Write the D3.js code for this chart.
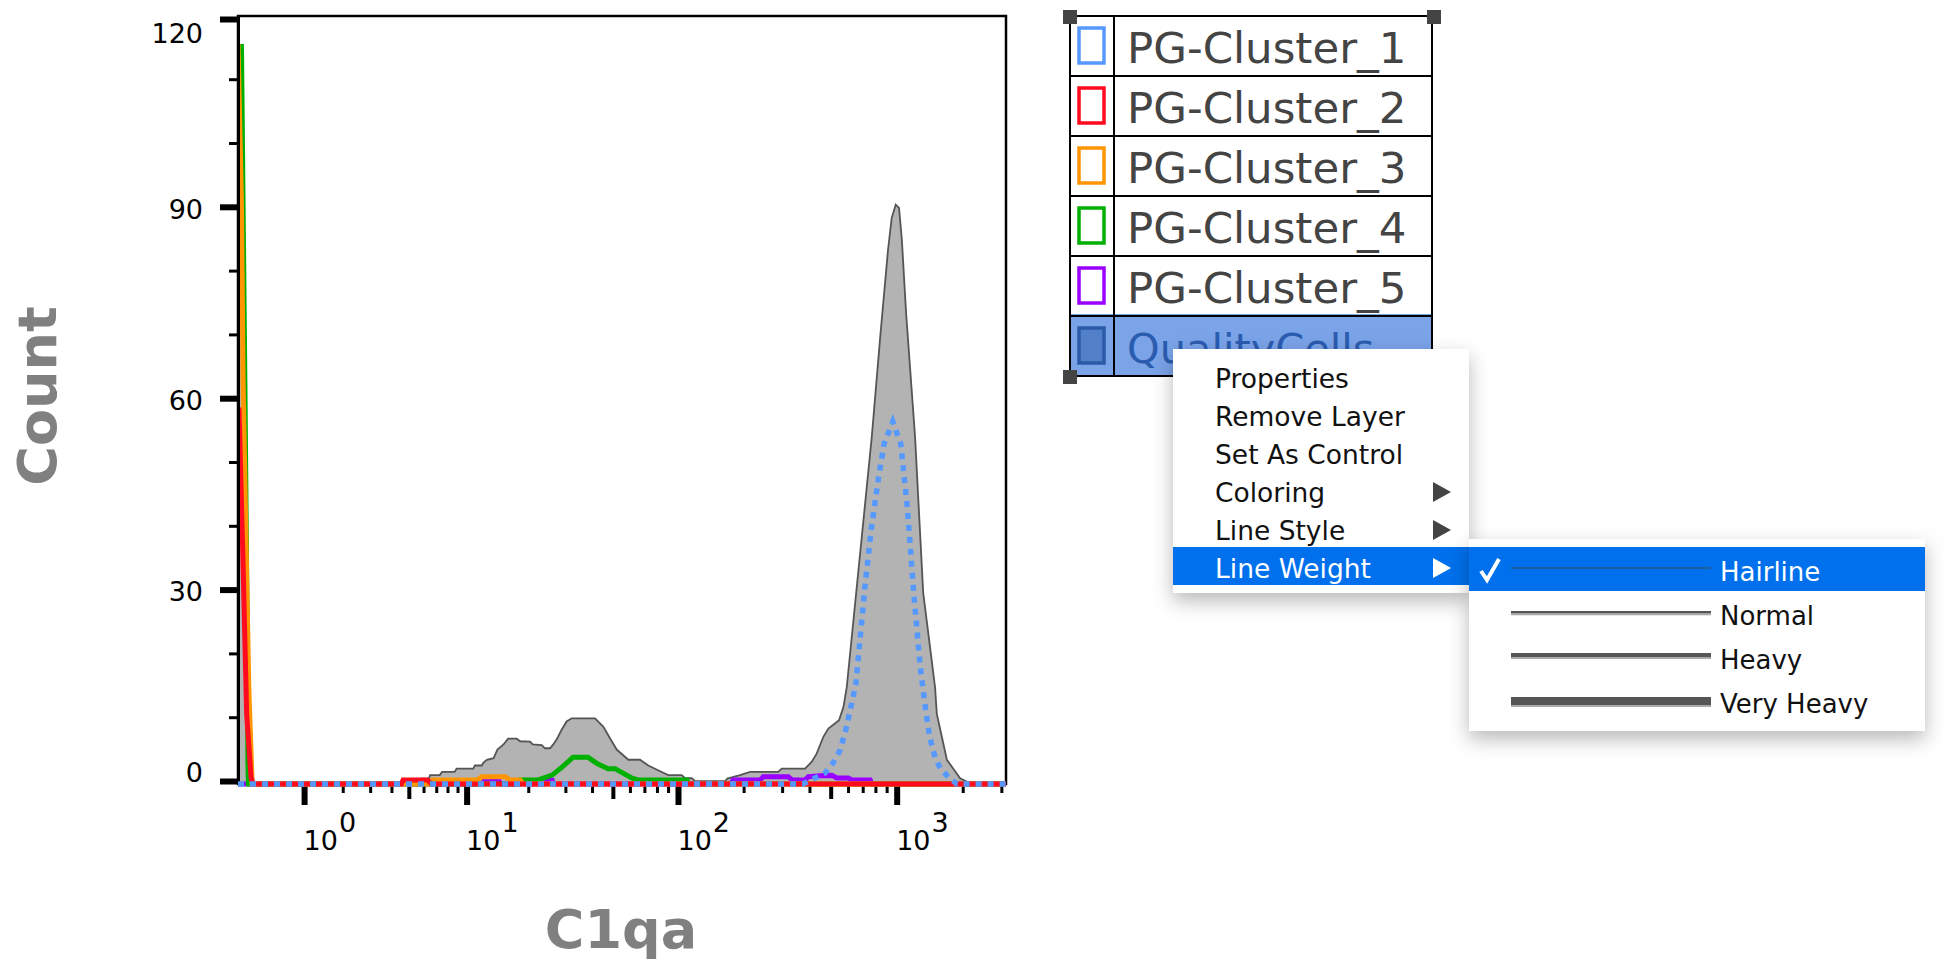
<!DOCTYPE html>
<html>
<head>
<meta charset="utf-8">
<script src="https://cdn.jsdelivr.net/npm/d3@7"></script>
<style>
  html, body { margin: 0; padding: 0; background: #fff; }
  svg { display: block; }
  text { font-family: "DejaVu Sans", sans-serif; }
</style>
</head>
<body>
<div id="chart"></div>
<script>
// ----------------------
// Data
// ----------------------
const grayX = [0, 0.06, 0.1, 0.13, 5.5, 5.75, 6.4, 6.5, 7.3, 7.5, 8.7, 8.9, 10.8, 11, 11.9, 12.1, 12.6, 13.6, 14.2, 15.2, 16, 17.6, 18.3, 20.4, 21, 23.2, 24, 25.4, 26.3, 27.3, 28.8, 30.4, 32.1, 41.3, 45.1, 49.4, 52.1, 59, 66.8, 73, 82.7, 90.2, 104, 107.7, 115.7, 119.8, 164.6, 168.5, 192.6, 214, 288, 299, 382, 410, 432, 463, 488, 546, 572, 592, 770, 841, 913, 949, 990, 1025, 1056, 1104, 1213, 1321, 1496, 1524, 1694, 1946, 2199, 3150];
const grayY = [116, 60, 10, 0, 0, 0.84, 0.84, 1.4, 1.4, 1.9, 1.9, 2.4, 2.4, 2.9, 2.9, 3.3, 3.8, 4.05, 5.4, 6.2, 7.1, 7.1, 6.7, 6.65, 6.2, 6.1, 5.6, 5.6, 6.2, 7, 8.5, 9.8, 10.3, 10.3, 9, 6.7, 5.4, 3.8, 3.8, 2.9, 2, 1.4, 1.4, 0.9, 0.9, 0.45, 0.45, 0.84, 1.4, 1.9, 1.9, 2.4, 2.4, 3.5, 4.8, 7.4, 8.7, 10, 12.1, 15.2, 54.4, 70, 83.7, 88.7, 90.8, 90.3, 85.3, 73.8, 54.4, 30, 15.2, 11, 3.8, 0.9, 0, 0];

const blueX = [0, 374, 416, 471, 513, 552, 586, 617, 652, 717, 765, 823, 876, 960, 1044, 1116, 1196, 1279, 1315, 1362, 1406, 1445, 1496, 1578, 1718, 1880, 3150];
const blueY = [0, 0, 0.8, 1.7, 3.3, 5.3, 8.5, 11.9, 15.8, 31, 39.8, 47.6, 53.3, 56.8, 53.3, 43.7, 30, 18.6, 15.2, 11.1, 8, 6.1, 4.2, 2.5, 1.1, 0, 0];

const redX = [0.01, 0.05, 0.095, 0.146, 0.17, 4.55, 4.65, 6.3, 6.6, 3150];
const redY = [59, 37, 11, 1.1, 0, 0, 0.63, 0.63, 0, 0];

const orangeX = [0, 0.037, 0.055, 0.075, 0.12, 0.16, 6.5, 6.7, 11.3, 11.9, 15.5, 16.3, 18.3, 18.9, 3150];
const orangeY = [116, 91, 63, 47.6, 15, 0, 0, 0.63, 0.63, 1.14, 1.14, 0.63, 0.63, 0, 0];

const greenX = [0.037, 0.054, 0.075, 0.1, 0.11, 0.115, 18, 18.3, 22.3, 26, 29.3, 32.6, 38.3, 42.2, 47.5, 51.2, 61.4, 65.4, 110, 111, 3150];
const greenY = [116, 92, 63, 26, 3, 0, 0, 0.63, 0.63, 1.4, 2.8, 4.2, 4.2, 3.2, 2.4, 2.4, 0.9, 0.63, 0.63, 0, 0];

const purpleX = [0, 6.5, 6.7, 7.1, 11.9, 12.2, 14.5, 14.8, 24, 24.6, 26, 26.4, 175, 179, 238, 246, 320, 333, 382, 395, 447, 506, 533, 601, 625, 757, 771, 3150];
const purpleY = [0, 0, 0.5, 0, 0, 0.4, 0.4, 0, 0, 0.6, 0.6, 0, 0, 0.63, 0.63, 1.14, 1.14, 0.63, 0.63, 1.14, 1.3, 1.35, 0.95, 0.95, 0.63, 0.63, 0, 0];

const legendNames = ["PG-Cluster_1", "PG-Cluster_2", "PG-Cluster_3", "PG-Cluster_4", "PG-Cluster_5", "QualityCells"];
const menuNames = ["Properties", "Remove Layer", "Set As Control", "Coloring", "Line Style", "Line Weight"];
const menuArrows = ["Coloring", "Line Style", "Line Weight"];
const weightNames = ["Hairline", "Normal", "Heavy", "Very Heavy"];

const yMajor = [0, 30, 60, 90, 120];
const yMinor = [10, 20, 40, 50, 70, 80, 100, 110];
const xMajor = [1, 10, 100, 1000];
const xMedium = [5, 50, 500];
const xMinor = [2, 3, 4, 6, 7, 8, 9, 20, 30, 40, 60, 70, 80, 90, 200, 300, 400, 600, 700, 800, 900, 2000, 3000];

// ----------------------
// Styles
// ----------------------
const colors = {
    blue: "#5599ff", red: "#ff0a1e", orange: "#ff9500", green: "#00b000", purple: "#9900ff"
};
const swatchColors = [colors.blue, colors.red, colors.orange, colors.green, colors.purple, "#2b5aa8"];
// line weight samples: offset from the row centre, dark height, shadow height
const weightTop = [-5, -5, -7, -7];
const weightDark = [2, 2.3, 4, 8];
const weightShade = [0, 2, 2, 2];

const width = 1953, height = 966;
const plot = { left: 238, right: 1006, top: 16, bottom: 784 };

const svg = d3.select("#chart").append("svg")
    .attr("width", width)
    .attr("height", height);

const defs = svg.append("defs");
defs.append("clipPath").attr("id", "plot-clip").append("rect")
    .attr("x", plot.left).attr("y", plot.top - 2)
    .attr("width", plot.right - plot.left + 2).attr("height", plot.bottom - plot.top + 6);

// biexponential-looking x axis, log10(1 + x) fits every tick
const x = d3.scaleSymlog().constant(1).domain([0, 3150]).range([plot.left, plot.right]);
const y = d3.scaleLinear().domain([0, 120]).range([plot.bottom, 18.4]);

const zip = (xs, ys) => xs.map((v, i) => [v, ys[i]]);
const line = d3.line().x(d => x(d[0])).y(d => y(d[1]));
const area = d3.area().x(d => x(d[0])).y0(y(0)).y1(d => y(d[1]));

// ----------------------
// Frame, ticks, labels
// ----------------------
svg.append("rect")
    .attr("x", plot.left).attr("y", plot.top)
    .attr("width", plot.right - plot.left).attr("height", plot.bottom - plot.top)
    .attr("fill", "none").attr("stroke", "#000").attr("stroke-width", 2.5);

function xTicks(values, size, strokeWidth) {
    const g = svg.append("g")
        .attr("transform", `translate(0, ${plot.bottom})`)
        .call(d3.axisBottom(x).tickValues(values).tickSize(size).tickFormat(""));
    g.select(".domain").remove();
    g.selectAll("line").attr("stroke", "#000").attr("stroke-width", strokeWidth);
    return g;
}
xTicks(xMinor, 9, 3);
xTicks(xMedium, 15, 4);
const xMajorAxis = xTicks(xMajor, 21, 6);

xMajorAxis.selectAll("text").each(function(d) {
    const t = d3.select(this)
        .text(null)
        .attr("x", -1).attr("y", 66).attr("dy", null)
        .attr("text-anchor", "start")
        .attr("fill", "#000")
        .style("font-size", "27px");
    t.append("tspan").text("10");
    t.append("tspan").attr("dx", 1).attr("dy", -18).text(Math.round(Math.log10(d)));
});

const yAxis = svg.append("g")
    .attr("transform", `translate(${plot.left}, -3)`)
    .call(d3.axisLeft(y).tickValues(yMajor).tickSize(18).tickFormat(d3.format("d")));
yAxis.select(".domain").remove();
yAxis.selectAll("line").attr("stroke", "#000").attr("stroke-width", 6);
yAxis.selectAll("text")
    .attr("x", -35).attr("dy", d => d === 120 ? "1.0em" : d === 0 ? "0" : "0.42em")
    .attr("fill", "#000")
    .style("font-size", "27px");
// the 120 tick sits just inside the frame
yAxis.selectAll(".tick").filter(d => d === 120).select("line").attr("y1", 3.6).attr("y2", 3.6);

const yMinorAxis = svg.append("g")
    .attr("transform", `translate(${plot.left}, -3)`)
    .call(d3.axisLeft(y).tickValues(yMinor).tickSize(9).tickFormat(""));
yMinorAxis.select(".domain").remove();
yMinorAxis.selectAll("line").attr("stroke", "#000").attr("stroke-width", 3);

svg.append("text")
    .attr("x", 621).attr("y", 948)
    .attr("text-anchor", "middle")
    .attr("fill", "#808080")
    .style("font-size", "54px").style("font-weight", "bold")
    .text("C1qa");

svg.append("text")
    .attr("transform", "translate(56, 396) rotate(-90)")
    .attr("text-anchor", "middle")
    .attr("fill", "#808080")
    .style("font-size", "54px").style("font-weight", "bold")
    .text("Count");

// ----------------------
// Histograms
// ----------------------
const marks = svg.append("g").attr("clip-path", "url(#plot-clip)");

marks.append("path")
    .attr("d", area(zip(grayX, grayY)))
    .attr("fill", "#b3b3b3");
marks.append("path")
    .attr("d", line(zip(grayX, grayY)))
    .attr("fill", "none").attr("stroke", "#555").attr("stroke-width", 1.8);

[[purpleX, purpleY, colors.purple], [greenX, greenY, colors.green],
 [orangeX, orangeY, colors.orange], [redX, redY, colors.red]].forEach(([xs, ys, c]) => {
    marks.append("path")
        .attr("d", line(zip(xs, ys)))
        .attr("fill", "none").attr("stroke", c).attr("stroke-width", 5);
});

// left edge of the frame sits on top of the spikes
svg.append("line")
    .attr("x1", plot.left + 0.5).attr("x2", plot.left + 0.5)
    .attr("y1", plot.top).attr("y2", plot.bottom)
    .attr("stroke", "#000").attr("stroke-width", 3);

// dotted blue goes last so it also covers the foot of the frame
svg.append("g").attr("clip-path", "url(#plot-clip)").append("path")
    .attr("d", line(zip(blueX, blueY)))
    .attr("fill", "none").attr("stroke", colors.blue)
    .attr("stroke-width", 5.5).attr("stroke-dasharray", "6 6");

// ----------------------
// Legend table
// ----------------------
const legend = { left: 1070, right: 1432, top: 16, rowH: 60, col: 1114 };
const rowY = d3.scaleLinear().domain([0, 6]).range([legend.top, legend.top + 6 * legend.rowH]);
const lg = svg.append("g");

lg.append("rect")
    .attr("x", legend.left).attr("y", rowY(5) - 2)
    .attr("width", legend.right - legend.left).attr("height", legend.rowH + 2)
    .attr("fill", "#7aa3e8");

lg.selectAll("line.row").data(d3.range(7)).enter().append("line")
    .attr("x1", legend.left).attr("x2", legend.right)
    .attr("y1", d => rowY(d)).attr("y2", d => rowY(d))
    .attr("stroke", "#000").attr("stroke-width", 2);

[legend.left, legend.col, legend.right].forEach(cx => {
    lg.append("line")
        .attr("x1", cx).attr("x2", cx)
        .attr("y1", rowY(0)).attr("y2", rowY(6))
        .attr("stroke", "#000").attr("stroke-width", 2);
});

lg.selectAll("rect.swatch").data(legendNames).enter().append("rect")
    .attr("x", 1079).attr("y", (d, i) => rowY(i) + 12)
    .attr("width", 25).attr("height", 35)
    .attr("fill", (d, i) => i === 5 ? "#5280c8" : "none")
    .attr("stroke", (d, i) => swatchColors[i])
    .attr("stroke-width", 3.5);

lg.selectAll("text").data(legendNames).enter().append("text")
    .attr("x", 1127).attr("y", (d, i) => rowY(i) + 47)
    .attr("fill", (d, i) => i === 5 ? "#2a5cb0" : "#444")
    .style("font-size", (d, i) => i === 5 ? "41.5px" : "43.5px")
    .text(d => d);

// selection handles
const handles = [[1070, 17], [1434, 17], [1070, 377]];
lg.selectAll("rect.handle").data(handles).enter().append("rect")
    .attr("x", d => d[0] - 7).attr("y", d => d[1] - 7)
    .attr("width", 14).attr("height", 14)
    .attr("fill", "#444");

// ----------------------
// Context menu
// ----------------------
const shadow = "drop-shadow(0px 8px 10px rgba(0,0,0,0.28))";
const menu = svg.append("g");
menu.append("rect")
    .attr("x", 1173).attr("y", 349).attr("width", 296).attr("height", 244)
    .attr("fill", "#fff").style("filter", shadow);
menu.append("rect")
    .attr("x", 1173).attr("y", 547).attr("width", 296).attr("height", 38)
    .attr("fill", "#0070ec");

const menuY = d3.scaleLinear().domain([0, 5]).range([378, 568]);
menu.selectAll("text").data(menuNames).enter().append("text")
    .attr("x", 1215).attr("y", (d, i) => menuY(i)).attr("dy", "0.36em")
    .attr("fill", d => d === "Line Weight" ? "#fff" : "#111")
    .style("font-size", "26.5px")
    .text(d => d);
menu.selectAll("path.arrow").data(menuArrows).enter().append("path")
    .attr("d", d => {
        const c = menuY(menuNames.indexOf(d));
        return `M1433,${c - 10}L1451,${c}L1433,${c + 10}Z`;
    })
    .attr("fill", d => d === "Line Weight" ? "#fff" : "#444");

const sub = svg.append("g");
sub.append("rect")
    .attr("x", 1469).attr("y", 539).attr("width", 456).attr("height", 192)
    .attr("fill", "#fff").style("filter", shadow);
sub.append("rect")
    .attr("x", 1469).attr("y", 547).attr("width", 456).attr("height", 44)
    .attr("fill", "#0070ec");
sub.append("path")
    .attr("d", "M1481,571L1487,580L1499,559")
    .attr("fill", "none").attr("stroke", "#fff").attr("stroke-width", 4);

const subY = d3.scaleLinear().domain([0, 3]).range([572, 704]);
sub.selectAll("rect.shade").data(weightNames).enter().append("rect")
    .attr("x", 1511).attr("width", 200)
    .attr("y", (d, i) => subY(i) + weightTop[i] + weightDark[i])
    .attr("height", (d, i) => weightShade[i])
    .attr("fill", "#aaa");
sub.selectAll("rect.dark").data(weightNames).enter().append("rect")
    .attr("x", 1511).attr("width", 200)
    .attr("y", (d, i) => subY(i) + weightTop[i])
    .attr("height", (d, i) => weightDark[i])
    .attr("fill", (d, i) => i === 0 ? "#1f5c9e" : "#555");
sub.selectAll("text").data(weightNames).enter().append("text")
    .attr("x", 1720).attr("y", (d, i) => subY(i)).attr("dy", "0.36em")
    .attr("fill", (d, i) => i === 0 ? "#fff" : "#111")
    .style("font-size", "26px")
    .text(d => d);
</script>
</body>
</html>
